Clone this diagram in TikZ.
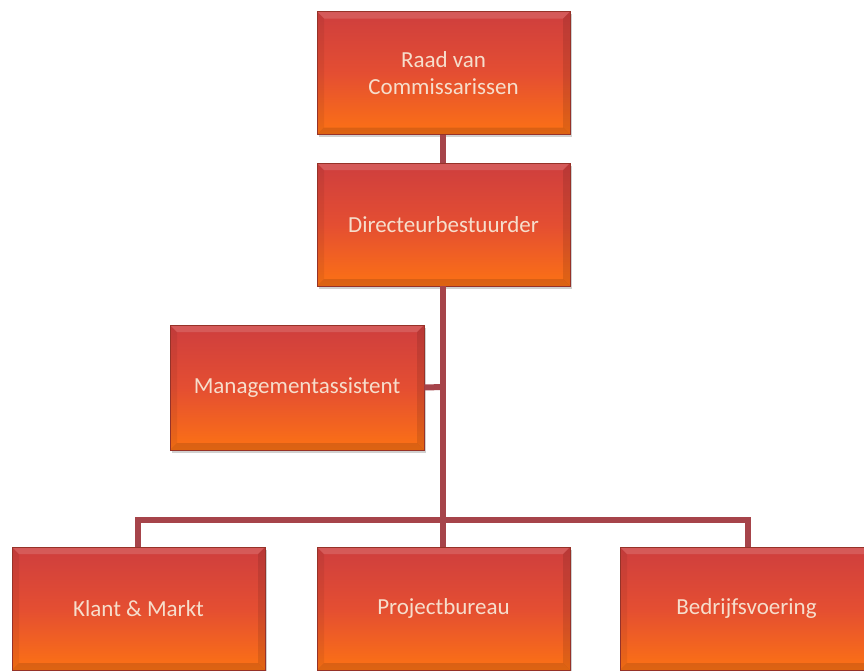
\documentclass[tikz,border=0pt]{standalone}
\usepackage{fontspec}
\setmainfont{Carlito}
\usetikzlibrary{shadows}
\definecolor{boxtop}{RGB}{206,62,62}
\definecolor{boxmid}{RGB}{228,78,50}
\definecolor{boxbot}{RGB}{252,114,20}
\definecolor{linkred}{RGB}{166,68,74}
\definecolor{txtpeach}{RGB}{246,222,204}
\definecolor{edgedark}{RGB}{150,50,40}
\tikzset{
  orgbox/.style={
    rectangle, minimum width=253pt, minimum height=123pt,
    top color=boxtop, bottom color=boxbot, middle color=boxmid,
    draw=edgedark, line width=0.6pt,
    text=txtpeach, font=\fontsize{23}{27.5}\selectfont, align=center,
    drop shadow={shadow xshift=1.5pt, shadow yshift=-2.5pt, opacity=0.3, fill=black!60},
    path picture={
      \fill[white,opacity=0.14] (path picture bounding box.north west) -- (path picture bounding box.north east)
        -- ([xshift=-7pt,yshift=-7pt]path picture bounding box.north east) -- ([xshift=7pt,yshift=-7pt]path picture bounding box.north west) -- cycle;
      \fill[black,opacity=0.06] (path picture bounding box.north west) -- ([xshift=7pt,yshift=-7pt]path picture bounding box.north west)
        -- ([xshift=7pt,yshift=7pt]path picture bounding box.south west) -- (path picture bounding box.south west) -- cycle;
      \fill[black,opacity=0.10] (path picture bounding box.north east) -- ([xshift=-7pt,yshift=-7pt]path picture bounding box.north east)
        -- ([xshift=-7pt,yshift=7pt]path picture bounding box.south east) -- (path picture bounding box.south east) -- cycle;
      \fill[black,opacity=0.12] (path picture bounding box.south west) -- ([xshift=7pt,yshift=7pt]path picture bounding box.south west)
        -- ([xshift=-7pt,yshift=7pt]path picture bounding box.south east) -- (path picture bounding box.south east) -- cycle;
    }
  },
  link/.style={draw=linkred, line width=6pt}
}
\begin{document}
\begin{tikzpicture}[x=1pt,y=-1pt]
\useasboundingbox (0,0) rectangle (864,670);
\fill[white] (0,0) rectangle (864,670);
\begin{scope}
\clip (0,0) rectangle (864,670);
\coordinate (hub) at (443,520);
\coordinate (mj) at (443,387);
\coordinate (lb) at (138,520);
\coordinate (rb) at (748,520);
\node[orgbox] (raad) at (443.5,73) {Raad van\\Commissarissen};
\node[orgbox] (dir) at (443.5,224.5) {Directeurbestuurder};
\node[orgbox, minimum width=254pt, minimum height=125pt] (mgmt) at (297,387.5) {Managementassistent};
\node[orgbox] (klant) at (138.5,608.5) {Klant \& Markt};
\node[orgbox] (proj) at (443.5,608.5) {Projectbureau};
\node[orgbox] (bedr) at (746.5,608.5) {Bedrijfsvoering};
\path[link] (raad.south -| hub) -- (dir.north -| hub);
\path[link] (dir.south -| hub) -- (proj.north -| hub);
\path[link] (mgmt.east) -- (mj);
\path[link, line join=miter] (klant.north -| lb) -- (lb) -- (rb) -- (bedr.north -| rb);
\end{scope}
\end{tikzpicture}
\end{document}
